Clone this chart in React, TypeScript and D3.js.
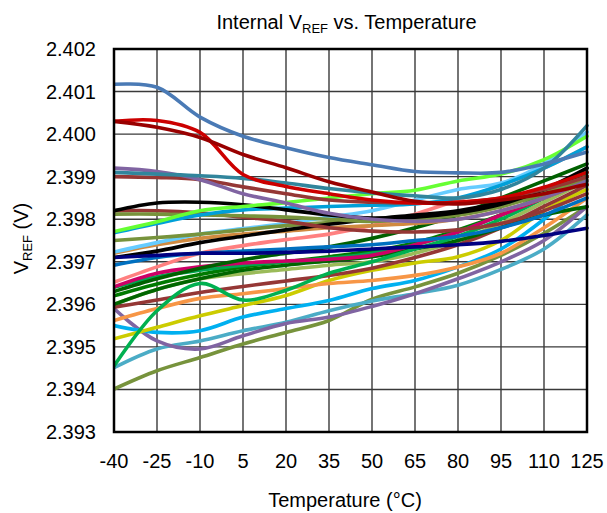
import React from "react";
import * as d3 from "d3";

const temps = [-40, -25, -10, 5, 20, 35, 50, 65, 80, 95, 110, 125];
const yTicks = [2.393, 2.394, 2.395, 2.396, 2.397, 2.398, 2.399, 2.4, 2.401, 2.402];

const sBlue = [2.40117, 2.4011, 2.4004, 2.39995, 2.39968, 2.39945, 2.39928, 2.39912, 2.39909, 2.3991, 2.3993, 2.39958];
const sDarkRed = [2.4003, 2.40016, 2.39992, 2.39952, 2.39921, 2.39888, 2.39864, 2.39842, 2.39836, 2.39845, 2.3986, 2.39882];
const sRed = [2.4003, 2.40032, 2.40004, 2.39905, 2.39877, 2.3986, 2.39845, 2.39838, 2.3984, 2.3985, 2.39875, 2.3991];
const sPurpleHigh = [2.3992, 2.39912, 2.39893, 2.3986, 2.39838, 2.39814, 2.398, 2.39795, 2.398, 2.3982, 2.3985, 2.3989];
const sTealHigh = [2.3991, 2.39906, 2.39902, 2.39896, 2.39885, 2.39872, 2.39862, 2.39855, 2.3985, 2.3987, 2.3992, 2.4002];
const sBrownHigh = [2.399, 2.39898, 2.39893, 2.39876, 2.3986, 2.39845, 2.3984, 2.39838, 2.3984, 2.3985, 2.3987, 2.399];
const sBlackHigh = [2.3982, 2.39838, 2.3984, 2.39834, 2.39822, 2.3981, 2.39803, 2.39805, 2.39815, 2.39835, 2.3987, 2.3992];
const sBlackLow = [2.3971, 2.39725, 2.39745, 2.3976, 2.39775, 2.39788, 2.398, 2.3981, 2.3982, 2.3984, 2.3987, 2.399];
const sLime = [2.39771, 2.39794, 2.3982, 2.3983, 2.39839, 2.3985, 2.3986, 2.39868, 2.3989, 2.39906, 2.3994, 2.39995];
const sCyan = [2.39768, 2.3979, 2.3981, 2.39822, 2.39826, 2.3983, 2.39833, 2.39836, 2.3985, 2.3988, 2.3992, 2.3997];
const sOliveFlat = [2.39812, 2.39812, 2.3981, 2.39808, 2.39805, 2.398, 2.39795, 2.398, 2.3981, 2.3983, 2.3986, 2.399];
const sOliveMid = [2.3975, 2.39757, 2.39765, 2.39775, 2.39785, 2.39792, 2.398, 2.39805, 2.3981, 2.3983, 2.3986, 2.3989];
const sBrownMid = [2.3982, 2.3982, 2.39815, 2.39805, 2.39795, 2.3978, 2.39772, 2.3977, 2.39775, 2.3979, 2.3982, 2.3986];
const sLightBlue = [2.39723, 2.39745, 2.39765, 2.39778, 2.3979, 2.39805, 2.3982, 2.39845, 2.3987, 2.39885, 2.3993, 2.40005];
const sTan = [2.3972, 2.3974, 2.39755, 2.39765, 2.39772, 2.3978, 2.39785, 2.3979, 2.398, 2.3982, 2.3985, 2.3989];
const sNavy = [2.3971, 2.39715, 2.3972, 2.3972, 2.39722, 2.39725, 2.3973, 2.39735, 2.3974, 2.39748, 2.39762, 2.39779];
const sMidBlue = [2.39692, 2.3971, 2.3972, 2.39725, 2.3973, 2.39735, 2.3974, 2.3975, 2.3976, 2.3978, 2.3981, 2.3985];
const sSalmon = [2.39652, 2.39688, 2.3972, 2.39738, 2.39752, 2.39765, 2.39785, 2.39812, 2.39845, 2.3988, 2.3992, 2.3997];
const sMagenta = [2.39641, 2.39673, 2.39688, 2.39697, 2.39702, 2.39706, 2.39715, 2.3974, 2.3977, 2.3981, 2.3985, 2.399];
const sGreenWavy = [2.39455, 2.39585, 2.39649, 2.3961, 2.39633, 2.39673, 2.397, 2.3973, 2.3976, 2.398, 2.3985, 2.3991];
const sGreen = [2.3964, 2.39665, 2.3968, 2.39692, 2.397, 2.39708, 2.3972, 2.3974, 2.3977, 2.3981, 2.3986, 2.3992];
const sDarkGreen1 = [2.3963, 2.3966, 2.39685, 2.39705, 2.3972, 2.39735, 2.39755, 2.3978, 2.3981, 2.3985, 2.3989, 2.3993];
const sDarkGreen2 = [2.396, 2.39635, 2.3966, 2.3968, 2.39692, 2.39702, 2.39712, 2.3973, 2.3975, 2.3978, 2.3981, 2.39829];
const sDarkGreen3 = [2.3962, 2.39648, 2.3967, 2.39688, 2.397, 2.39712, 2.39725, 2.39745, 2.39775, 2.3981, 2.3985, 2.3989];
const sBrownLow = [2.39593, 2.3961, 2.39628, 2.39642, 2.39655, 2.39668, 2.39685, 2.3971, 2.3974, 2.3978, 2.3983, 2.3988];
const sOliveLight = [2.396, 2.39635, 2.3966, 2.39672, 2.39682, 2.39692, 2.397, 2.3972, 2.3975, 2.3979, 2.3984, 2.3989];
const sOrange = [2.39562, 2.3959, 2.39614, 2.39625, 2.39637, 2.39649, 2.39656, 2.39668, 2.39688, 2.3972, 2.3978, 2.3985];
const sYellow = [2.39519, 2.39546, 2.39573, 2.39597, 2.39621, 2.39656, 2.3968, 2.39697, 2.39712, 2.3975, 2.3982, 2.3987];
const sSky = [2.3955, 2.39534, 2.39538, 2.3957, 2.3959, 2.39609, 2.39637, 2.39656, 2.39688, 2.3973, 2.398, 2.3989];
const sPurpleLow = [2.3959, 2.39514, 2.39495, 2.39526, 2.39555, 2.3957, 2.39595, 2.39625, 2.3966, 2.397, 2.3975, 2.3983];
const sOliveLow = [2.39401, 2.39444, 2.39475, 2.39507, 2.39534, 2.39562, 2.39612, 2.39641, 2.39673, 2.39715, 2.39767, 2.3983];
const sTealLow = [2.39451, 2.39495, 2.39514, 2.39538, 2.39558, 2.39585, 2.39608, 2.39625, 2.39645, 2.39682, 2.3973, 2.3981];

const seriesValues = [
  sOliveLow, sTealLow, sPurpleLow, sSky, sYellow, sOrange, sOliveLight, sBrownLow,
  sDarkGreen2, sDarkGreen3, sGreenWavy, sGreen, sMagenta, sDarkGreen1, sSalmon, sMidBlue,
  sTan, sLightBlue, sOliveMid, sBlackLow, sBrownMid, sOliveFlat, sCyan, sBlackHigh,
  sLime, sBrownHigh, sPurpleHigh, sTealHigh, sRed, sDarkRed, sBlue, sNavy,
];
const seriesColors = [
  "#77933c", "#4bacc6", "#8064a2", "#00b0f0", "#cccc00", "#f79646", "#9bbb59", "#953735",
  "#006600", "#007a00", "#00b050", "#00a650", "#cc0066", "#006000", "#ff8080", "#0070c0",
  "#d08a40", "#66ccff", "#77933c", "#000000", "#953735", "#77933c", "#00a0d8", "#000000",
  "#66ff33", "#953735", "#8064a2", "#31859c", "#cc0000", "#990000", "#4a7ab5", "#000080",
];

const W = 607;
const H = 513;
const left = 114;
const right = 587;
const top = 49;
const bottom = 432;

export default function App() {
  const x = d3.scaleLinear().domain([-40, 125]).range([left, right]);
  const y = d3.scaleLinear().domain([2.393, 2.402]).range([bottom, top]);
  const line = d3
    .line<number>()
    .x((_, i) => x(temps[i]))
    .y((v) => y(v))
    .curve(d3.curveCatmullRom.alpha(0.5));
  const font = "Arial, 'Liberation Sans', sans-serif";
  return (
    <svg width={W} height={H} style={{ position: "absolute", left: 0, top: 0, background: "#fff" }} fontFamily={font}>
      <defs>
        <clipPath id="plot">
          <rect x={left} y={top - 3} width={right - left + 3} height={bottom - top + 3} />
        </clipPath>
      </defs>
      {temps.map((t) => (
        <line key={"vx" + t} x1={x(t)} x2={x(t)} y1={top} y2={bottom} stroke="#3a3a3a" strokeWidth={1.4} />
      ))}
      {yTicks.map((v) => (
        <line key={"hy" + v} x1={left} x2={right} y1={y(v)} y2={y(v)} stroke="#3a3a3a" strokeWidth={1.4} />
      ))}
      <g clipPath="url(#plot)">
        {seriesValues.map((vals, i) => (
          <path key={i} d={line(vals) || ""} fill="none" stroke={seriesColors[i]} strokeWidth={3.6} strokeLinecap="round" />
        ))}
      </g>
      <rect x={left} y={top} width={right - left} height={bottom - top} fill="none" stroke="#000" strokeWidth={2.5} />
      {yTicks.map((v) => (
        <text key={"yt" + v} x={96} y={y(v)} dy="0.35em" textAnchor="end" fontSize={20} fill="#000">
          {d3.format(".3f")(v)}
        </text>
      ))}
      {temps.map((t) => (
        <text key={"xt" + t} x={x(t)} y={468} textAnchor="middle" fontSize={20} fill="#000">
          {t}
        </text>
      ))}
      <text x={(left + right) / 2 - 4} y={29} textAnchor="middle" fontSize={20} fill="#000">
        Internal V<tspan fontSize={13} dy={4}>REF</tspan>
        <tspan dy={-4}> vs. Temperature</tspan>
      </text>
      <text x={345} y={507} textAnchor="middle" fontSize={20} fill="#000">
        Temperature (°C)
      </text>
      <text transform={`translate(28, ${(top + bottom) / 2 - 2}) rotate(-90)`} textAnchor="middle" fontSize={20} fill="#000">
        V<tspan fontSize={13} dy={4}>REF</tspan>
        <tspan dy={-4}> (V)</tspan>
      </text>
    </svg>
  );
}
